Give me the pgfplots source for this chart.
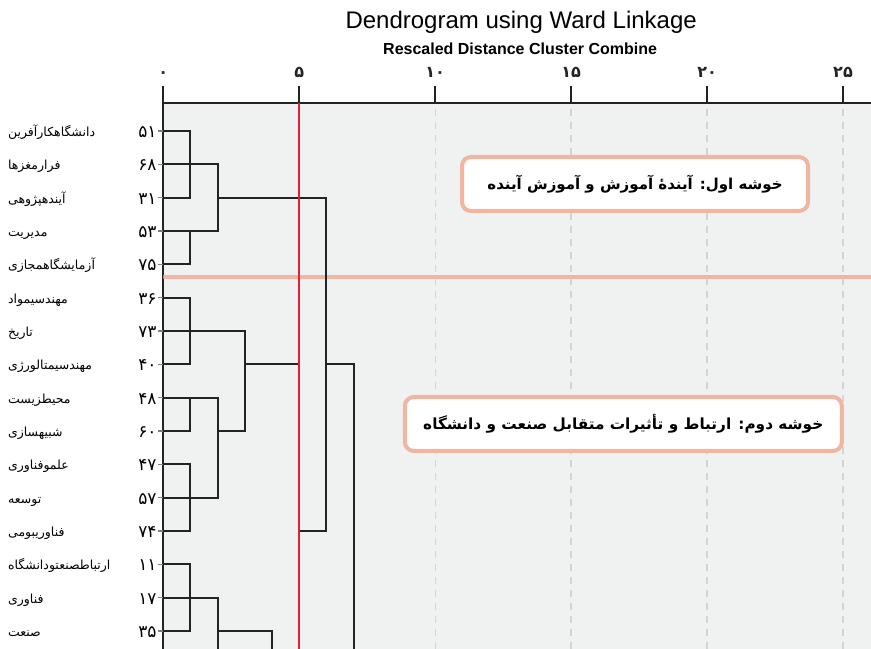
\documentclass[border=0pt]{standalone}
\usepackage{fontspec}
\usepackage{pgfplots}
\pgfplotsset{compat=1.18}
\setmainfont{Liberation Sans}
\newfontfamily\fa[Script=Arabic]{DejaVu Sans}
\TeXXeTstate=1
\definecolor{bggray}{RGB}{240,241,241}
\definecolor{salmon}{RGB}{240,182,162}
\definecolor{cutred}{RGB}{230,28,58}
\definecolor{gridgray}{RGB}{212,212,212}
\definecolor{linek}{RGB}{35,35,35}
\newcommand{\leaf}[2]{\makebox[155pt][l]{\smash{\raisebox{-5.5pt}{\fa\fontsize{12.5}{13}\selectfont\beginR #1\endR}}\hfill\smash{\raisebox{-6.5pt}{\fa\fontsize{17}{17}\selectfont #2}}\hspace{1.5pt}\textcolor{gray}{\rule[-0.6pt]{5pt}{1.2pt}}\rule[-6pt]{0pt}{12pt}}}
\begin{document}
\begin{tikzpicture}
\begin{axis}[
  name=ax,
  width=707.7pt, height=545.5pt, scale only axis,
  xmin=0, xmax=26.03, ymin=-16.54, ymax=-0.175,
  axis x line*=top, axis y line*=left,
  axis line style={line width=2pt, linek, -},
  axis background/.style={fill=bggray},
  xtick={0,5,10,15,20,25},
  xticklabels={۰,۵,۱۰,۱۵,۲۰,۲۵},
  xticklabel style={font=\fa\bfseries\fontsize{16}{16}\selectfont, text=linek, yshift=5pt},
  major tick length=17.5pt, tick align=outside,
  xtick style={line width=1.6pt, linek},
  ytick={-16,-15,...,-1},
  yticklabels={
    {\leaf{صنعت}{۳۵}},
    {\leaf{فناوری}{۱۷}},
    {\leaf{ارتباطصنعتودانشگاه}{۱۱}},
    {\leaf{فناوریبومی}{۷۴}},
    {\leaf{توسعه}{۵۷}},
    {\leaf{علموفناوری}{۴۷}},
    {\leaf{شبیهسازی}{۶۰}},
    {\leaf{محیطزیست}{۴۸}},
    {\leaf{مهندسیمتالورژی}{۴۰}},
    {\leaf{تاریخ}{۷۳}},
    {\leaf{مهندسیمواد}{۳۶}},
    {\leaf{آزمایشگاهمجازی}{۷۵}},
    {\leaf{مدیریت}{۵۳}},
    {\leaf{آیندهپژوهی}{۳۱}},
    {\leaf{فرارمغزها}{۶۸}},
    {\leaf{دانشگاهکارآفرین}{۵۱}}},
  yticklabel style={anchor=east, inner sep=0pt, xshift=17.5pt},
  ytick style={draw=none},
  xmajorgrids,
  major grid style={gridgray, line width=1.3pt, dash pattern=on 7pt off 6pt},
]
\addplot[salmon, line width=4pt] coordinates {(0,-5.38) (26.03,-5.38)};
\addplot[linek, line width=2pt, line cap=rect, unbounded coords=jump] coordinates {
(0,-1)(1,-1) (nan,nan) (0,-2)(1,-2) (nan,nan) (0,-3)(1,-3) (nan,nan)
(0,-4)(1,-4) (nan,nan) (0,-5)(1,-5) (nan,nan) (0,-6)(1,-6) (nan,nan)
(0,-7)(1,-7) (nan,nan) (0,-8)(1,-8) (nan,nan) (0,-9)(1,-9) (nan,nan)
(0,-10)(1,-10) (nan,nan) (0,-11)(1,-11) (nan,nan) (0,-12)(1,-12) (nan,nan)
(0,-13)(1,-13) (nan,nan) (0,-14)(1,-14) (nan,nan) (0,-15)(1,-15) (nan,nan)
(0,-16)(1,-16) (nan,nan)
(1,-1)(1,-3) (nan,nan) (1,-2)(2,-2) (nan,nan)
(1,-4)(1,-5) (nan,nan) (1,-4)(2,-4) (nan,nan)
(2,-2)(2,-4) (nan,nan) (2,-3)(6,-3) (nan,nan)
(1,-6)(1,-8) (nan,nan) (1,-7)(3,-7) (nan,nan)
(1,-9)(1,-10) (nan,nan) (1,-9)(2,-9) (nan,nan)
(1,-11)(1,-13) (nan,nan) (1,-12)(2,-12) (nan,nan)
(2,-9)(2,-12) (nan,nan) (2,-10)(3,-10) (nan,nan)
(3,-7)(3,-10) (nan,nan) (3,-8)(5,-8) (nan,nan)
(5,-8)(5,-18) (nan,nan) (5,-13)(6,-13) (nan,nan)
(6,-3)(6,-13) (nan,nan) (6,-8)(7,-8) (nan,nan)
(7,-8)(7,-18) (nan,nan)
(1,-14)(1,-16) (nan,nan) (1,-15)(2,-15) (nan,nan)
(2,-15)(2,-18) (nan,nan) (2,-16)(4,-16) (nan,nan)
(4,-16)(4,-18)
};
\addplot[cutred, line width=1.8pt] coordinates {(5,0) (5,-20)};
\node[draw=salmon, line width=4pt, fill=white, rounded corners=9pt, minimum width=346pt, minimum height=54pt, inner sep=0pt] at (axis cs:17.35,-2.59) {\fa\bfseries\fontsize{15}{15}\selectfont\beginR خوشه اول: آیندهٔ آموزش و آموزش آینده\endR};
\node[draw=salmon, line width=4pt, fill=white, rounded corners=9pt, minimum width=437pt, minimum height=54pt, inner sep=0pt] at (axis cs:16.92,-9.79) {\fa\bfseries\fontsize{15.3}{15.3}\selectfont\beginR خوشه دوم: ارتباط و تأثیرات متقابل صنعت و دانشگاه\endR};
\end{axis}
\node[anchor=base, xshift=4pt, yshift=75.2pt, font=\fontsize{24}{24}\selectfont] at (ax.north) {Dendrogram using Ward Linkage};
\node[anchor=base, xshift=3pt, yshift=49.2pt, font=\bfseries\fontsize{16}{16}\selectfont] at (ax.north) {Rescaled Distance Cluster Combine};
\pgfresetboundingbox
\path[use as bounding box] ([xshift=-163.3pt]ax.south west) rectangle ([yshift=103.5pt]ax.north east);
\end{tikzpicture}
\end{document}
